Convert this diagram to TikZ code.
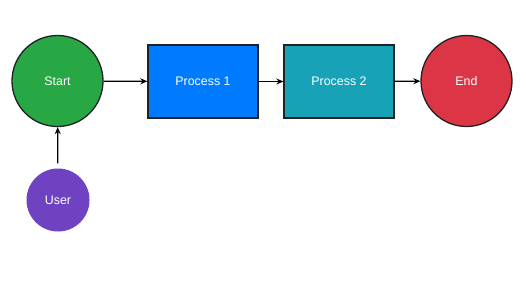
\documentclass[tikz,border=0pt]{standalone}
\usepackage{fontspec}
\setmainfont{Liberation Sans}
\usetikzlibrary{arrows.meta}
\definecolor{cgreen}{HTML}{28A745}
\definecolor{cblue}{HTML}{007BFF}
\definecolor{cteal}{HTML}{17A2B8}
\definecolor{cred}{HTML}{DC3545}
\definecolor{cpurple}{HTML}{6F42C1}
\definecolor{cline}{HTML}{222222}
\begin{document}
\begin{tikzpicture}[x=1pt,y=-1pt,
  lbl/.style={text=white,font=\fontsize{12.4}{14}\selectfont},
  circ/.style={circle,draw=cline,line width=1.3pt,inner sep=0pt,lbl},
  procbox/.style={rectangle,draw=cline,line width=1.3pt,inner sep=0pt,minimum width=110pt,minimum height=73pt,lbl},
  conn/.style={-{Stealth[length=7pt,width=6pt]},line width=1.3pt,draw=black}]
\useasboundingbox (0,0) rectangle (526,295);
\node[circ,fill=cgreen,minimum size=91pt] (start) at (57.5,81) {Start};
\node[procbox,fill=cblue] (p1) at (203,81.5) {Process 1};
\node[procbox,fill=cteal] (p2) at (339,81.5) {Process 2};
\node[circ,fill=cred,minimum size=91pt] (end) at (466.5,81) {End};
\node[circle,fill=cpurple,inner sep=0pt,minimum size=63pt,lbl] (user) at (58,200) {User};
\draw[conn] (start) -- (p1);
\draw[conn] (p1) -- (p2);
\draw[conn] (p2) -- (end);
\draw[conn,shorten <=5pt] (user) -- (start);
\end{tikzpicture}
\end{document}
